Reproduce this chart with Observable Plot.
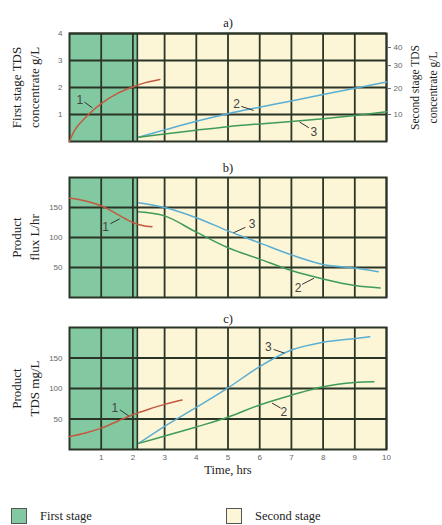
<!DOCTYPE html>
<html><head><meta charset="utf-8">
<script src="https://cdn.jsdelivr.net/npm/d3@7"></script>
<script src="https://cdn.jsdelivr.net/npm/@observablehq/plot@0.6"></script>
<style>
body{margin:0;background:#fff;}
#wrap{position:relative;width:442px;height:525px;overflow:hidden;}
#wrap svg{display:block;}
.lg{position:absolute;top:508px;font-family:"Liberation Serif",serif;font-size:12.5px;color:#222;white-space:nowrap;}
.sw{position:absolute;top:0;width:16px;height:16px;border:1px solid #555;box-sizing:border-box;}
.lt{position:absolute;top:1px;}
</style></head><body><div id="wrap"></div><script>
// ---- data ----
const timeTicks = [1,2,3,4,5,6,7,8,9,10];
const stageLabels = ["First stage","Second stage"];
const stageBounds = [0, 2.18, 10];

// panel a
const aTicks = [1,2,3,4];
const rightTicks = [10,20,30,40];            // second stage TDS labels (g/L)
const rightTickAt = [1.0,1.96,2.81,3.48];    // where they sit on the left scale
const a1Time = [0,0.19,0.6,1,1.5,2,2.4,2.85];
const a1Conc = [0,0.47,1.0,1.4,1.77,2.02,2.18,2.3];          // g/L, first stage
const a2Time = [2.18,3,4,5,6,7,8,9,10];
const a2Conc = [1.6,4.3,7.5,10.3,12.7,15,17.4,19.7,22];      // g/L, second stage (2)
const a3Conc = [1.6,2.8,4.2,5.5,6.5,7.4,8.4,9.6,11];         // g/L, second stage (3)
const aNotes = [{t:0.33,v:1.54,x1:0.47,y1:1.46,x2:0.72,y2:1.25,n:"1"},
                {t:5.27,v:1.37,x1:5.42,y1:1.3,x2:5.81,y2:1.15,n:"2"},
                {t:7.71,v:0.35,x1:7.55,y1:0.51,x2:7.26,y2:0.72,n:"3"}];

// panel b
const bTicks = [50,100,150];
const b1Time = [0,0.5,1,1.5,2,2.3,2.6];
const b1Flux = [166,161,153,139,125,120,118];
const b3Time = [2.18,3,4,5,6,7,8,9,9.74];
const b3Flux = [158,150,133,111,91,71,55,49,43];
const b2Time = [2.18,3,4,5,6,7,8,9,9.8];
const b2Flux = [143,136,109,83,64,45,31,20,16];
const bNotes = [{t:1.14,v:117,x1:1.29,y1:123,x2:1.58,y2:131,n:"1"},
                {t:5.76,v:122,x1:5.55,y1:117,x2:5.18,y2:108,n:"3"},
                {t:7.21,v:16,x1:7.34,y1:22,x2:7.71,y2:32,n:"2"}];

// panel c
const cTicks = [50,100,150];
const c1Time = [0,0.5,1,1.5,2,2.5,3,3.55];
const c1Tds = [21,27,35,46,57,66,74,81];
const c3Time = [2.18,3,4,5,6,7,8,9,9.47];
const c3Tds = [10,38,69,101,136,163,176,182,185];
const c2Time = [2.18,3,4,5,6,7,8,9,9.6];
const c2Tds = [10,22,37,53,73,89,103,110,111];
const cNotes = [{t:1.43,v:67.5,x1:1.59,y1:65,x2:1.87,y2:55,n:"1"},
                {t:6.27,v:168,x1:6.44,y1:164,x2:6.78,y2:158,n:"3"},
                {t:6.76,v:61,x1:6.66,y1:68,x2:6.39,y2:76,n:"2"}];

// ---- styles ----
const GREEN_BG = "#82c9a1", YELLOW_BG = "#fcf5d6", GRID = "#2b3527";
const RED = "#c25a40", BLUE = "#5aaed2", GREEN = "#3f9c58";
const SERIF = "Liberation Serif, serif";

const zip = (xs, ys) => xs.map((x, i) => ({x, y: ys[i]}));

function panel({height, marginTop, marginBottom, yDomain, yTicks, title, titleDy, yLabel, series, notes, extra = []}) {
  return Plot.plot({
    width: 442, height, marginLeft: 69, marginRight: 56, marginTop, marginBottom,
    x: {domain: [0, 10], axis: null},
    y: {domain: yDomain, axis: null},
    style: {fontFamily: "Liberation Sans, sans-serif", fontSize: "8px", color: "#666", background: "transparent", overflow: "visible"},
    marks: [
      Plot.rect([stageBounds], {x1: d => d[0], x2: d => d[1], fill: GREEN_BG}),
      Plot.rect([stageBounds], {x1: d => d[1], x2: d => d[2], fill: YELLOW_BG}),
      Plot.gridX(timeTicks, {stroke: GRID, strokeOpacity: 1, strokeWidth: 1.8}),
      Plot.gridX([stageBounds[1] - 0.04], {stroke: GRID, strokeOpacity: 1, strokeWidth: 1.6}),
      Plot.gridY(yTicks, {stroke: GRID, strokeOpacity: 1, strokeWidth: 1.8}),
      Plot.frame({stroke: GRID, strokeWidth: 2}),
      Plot.axisY(yTicks, {tickSize: 0, tickPadding: 7, fill: "#666"}),
      ...series.map(s => Plot.line(zip(s.t, s.v), {x: "x", y: "y", stroke: s.color, strokeWidth: 1.5, curve: "catmull-rom"})),
      Plot.link(notes, {x1: "x1", y1: "y1", x2: "x2", y2: "y2", stroke: "#333", strokeWidth: 1}),
      Plot.text(notes, {x: "t", y: "v", text: "n", fontSize: 12, fill: "#444"}),
      Plot.text([title], {frameAnchor: "top", dy: titleDy, text: d => d, fontFamily: SERIF, fontSize: 12.5, fill: "#222"}),
      Plot.text([yLabel], {frameAnchor: "left", textAnchor: "middle", rotate: -90, dx: -45, text: d => d,
        fontFamily: SERIF, fontSize: 13, lineHeight: 1.4, fill: "#222"}),
      ...extra
    ]
  });
}

const wrap = document.getElementById("wrap");

wrap.append(panel({
  height: 150, marginTop: 33, marginBottom: 9, yDomain: [0, 4], yTicks: aTicks,
  title: "a)", titleDy: -15, yLabel: "First stage TDS\nconcentrate g/L", notes: aNotes,
  series: [
    {t: a1Time, v: a1Conc, color: RED},
    {t: a2Time, v: a2Conc.map(d => d / 10), color: BLUE},
    {t: a2Time, v: a3Conc.map(d => d / 10), color: GREEN}
  ],
  extra: [
    Plot.axisY(rightTickAt, {anchor: "right", tickSize: 4, tickPadding: 3, stroke: "#666", fill: "#666",
      tickFormat: d => rightTicks[rightTickAt.indexOf(d)]}),
    Plot.text(["Second stage TDS\nconcentrate g/L"], {frameAnchor: "right", textAnchor: "middle", rotate: -90, dx: 36, text: d => d,
      fontFamily: SERIF, fontSize: 11.5, lineHeight: 1.55, fill: "#222"})
  ]
}));

wrap.append(panel({
  height: 155, marginTop: 27, marginBottom: 8, yDomain: [0, 200], yTicks: bTicks,
  title: "b)", titleDy: -14, yLabel: "Product\nflux L/hr", notes: bNotes,
  series: [
    {t: b1Time, v: b1Flux, color: RED},
    {t: b3Time, v: b3Flux, color: BLUE},
    {t: b2Time, v: b2Flux, color: GREEN}
  ]
}));

wrap.append(panel({
  height: 180, marginTop: 22, marginBottom: 36, yDomain: [0, 200], yTicks: cTicks,
  title: "c)", titleDy: -13, yLabel: "Product\nTDS mg/L", notes: cNotes,
  series: [
    {t: c1Time, v: c1Tds, color: RED},
    {t: c3Time, v: c3Tds, color: BLUE},
    {t: c2Time, v: c2Tds, color: GREEN}
  ],
  extra: [
    Plot.axisX(timeTicks, {tickSize: 0, tickPadding: 5, fill: "#666"}),
    Plot.text(["Time, hrs"], {frameAnchor: "bottom", dy: 24, text: d => d, fontFamily: SERIF, fontSize: 12.5, fill: "#222"})
  ]
}));

// legend
const legendFills = [GREEN_BG, YELLOW_BG];
const legendLeft = [11, 226];
stageLabels.forEach((lab, i) => {
  const d = document.createElement("div");
  d.className = "lg";
  d.style.left = legendLeft[i] + "px";
  d.innerHTML = `<span class="sw" style="left:0;background:${legendFills[i]}"></span><span class="lt" style="left:29px">${lab}</span>`;
  wrap.append(d);
});
</script></body></html>
